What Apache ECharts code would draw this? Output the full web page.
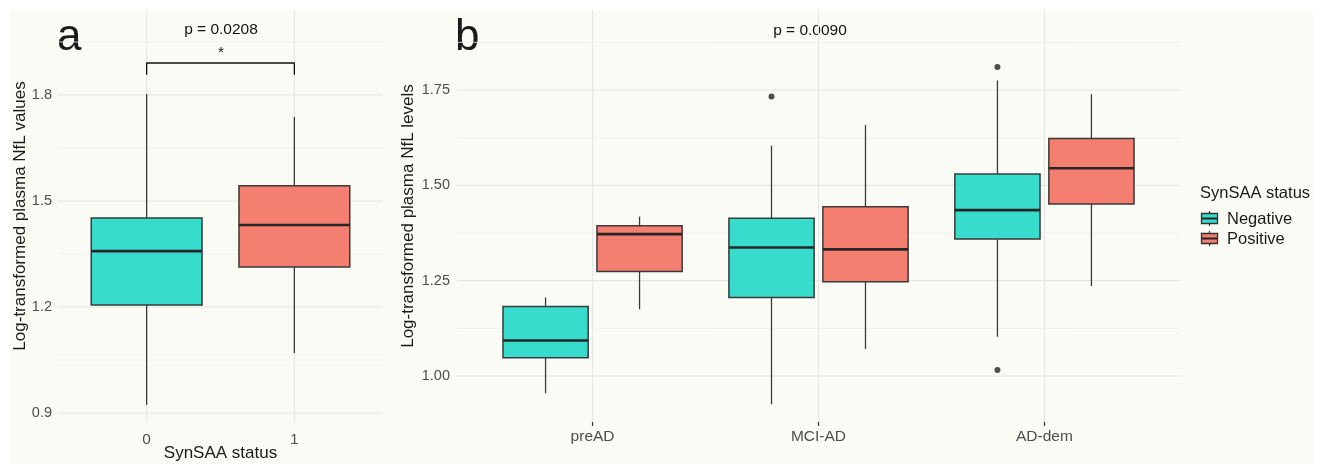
<!DOCTYPE html>
<html><head><meta charset="utf-8">
<script src="https://cdn.jsdelivr.net/npm/echarts@6/dist/echarts.min.js"></script>
<style>html,body{margin:0;padding:0;background:#fff}#c{width:1323px;height:464px}</style>
</head><body><div id="c"></div>
<script>
// ---------- data ----------
const catsA = ['0', '1'];
// [lower whisker, Q1, median, Q3, upper whisker]
const statsA = [
  [0.923, 1.206, 1.358, 1.452, 1.803],
  [1.070, 1.313, 1.432, 1.543, 1.738]
];
const pTextA = 'p = 0.0208';
const starA = '*';
const bracketA = [[1, 1.857], [1, 1.8906], [2, 1.8906], [2, 1.857]];

const catsB = ['preAD', 'MCI-AD', 'AD-dem'];
const negB = [
  [0.955, 1.048, 1.093, 1.182, 1.206],
  [0.926, 1.206, 1.337, 1.414, 1.604],
  [1.103, 1.359, 1.435, 1.530, 1.775]
];
const posB = [
  [1.175, 1.274, 1.372, 1.394, 1.418],
  [1.071, 1.247, 1.332, 1.444, 1.658],
  [1.236, 1.451, 1.545, 1.623, 1.739]
];
// outliers: [category number (1-based), value]
const outNegB = [[2, 1.733], [3, 1.810], [3, 1.016]];
const outPosB = [];
const pTextB = 'p = 0.0090';

const ticksA = [0.9, 1.2, 1.5, 1.8];
const minorA = [1.05, 1.35, 1.65, 1.95];
const ticksB = [1.00, 1.25, 1.50, 1.75];
const minorB = [1.125, 1.375, 1.625, 1.875];
const legendTitle = 'SynSAA status';
const legendNames = ['Negative', 'Positive'];

// ---------- style ----------
const FONT = '"Liberation Sans", Arial, Helvetica, sans-serif';
const TEAL = '#38dccd', SALMON = '#f47e6f';
const BG = '#fbfbf6';
const GRIDC = '#e6e6e4', MINORC = '#ededeb';
const DODGE = 0.208, BW_B = 0.377, BW_A = 0.75;

function hLines(xi, values, color, width) {
  return {
    type: 'custom', xAxisIndex: xi, yAxisIndex: xi, z: 1, silent: true, clip: false,
    data: values.map(v => [1, v]),
    renderItem: (params, api) => {
      const cs = params.coordSys;
      const y = api.coord([1, api.value(1)])[1];
      return { type: 'line', shape: { x1: cs.x, y1: y, x2: cs.x + cs.width, y2: y },
        style: { stroke: color, lineWidth: width } };
    }
  };
}
function vLines(xi, n, color, width) {
  const d = [];
  for (let k = 1; k <= n; k++) d.push([k, 1.2]);
  return {
    type: 'custom', xAxisIndex: xi, yAxisIndex: xi, z: 1, silent: true, clip: false,
    data: d,
    renderItem: (params, api) => {
      const cs = params.coordSys;
      const x = api.coord([api.value(0), 1.2])[0];
      return { type: 'line', shape: { x1: x, y1: cs.y, x2: x, y2: cs.y + cs.height },
        style: { stroke: color, lineWidth: width } };
    }
  };
}
function boxSeries(xi, stats, offset, width, colorFn, name) {
  return {
    type: 'custom', name: name, xAxisIndex: xi, yAxisIndex: xi, z: 3, clip: false,
    data: stats.map((s, i) => [i + 1].concat(s)),
    renderItem: (params, api) => {
      const x = api.value(0) + offset;
      const lo = api.value(1), q1 = api.value(2), md = api.value(3), q3 = api.value(4), hi = api.value(5);
      const tl = api.coord([x - width / 2, q3]);
      const br = api.coord([x + width / 2, q1]);
      const c = api.coord([x, md]);
      const yLo = api.coord([x, lo])[1], yHi = api.coord([x, hi])[1];
      const stroke = '#3a3a3a';
      return { type: 'group', children: [
        { type: 'line', shape: { x1: c[0], y1: yHi, x2: c[0], y2: tl[1] }, style: { stroke, lineWidth: 1.3 } },
        { type: 'line', shape: { x1: c[0], y1: br[1], x2: c[0], y2: yLo }, style: { stroke, lineWidth: 1.3 } },
        { type: 'rect', shape: { x: tl[0], y: tl[1], width: br[0] - tl[0], height: br[1] - tl[1] },
          style: { fill: colorFn(params.dataIndex), stroke, lineWidth: 1.5 } },
        { type: 'line', shape: { x1: tl[0], y1: c[1], x2: br[0], y2: c[1] }, style: { stroke: '#262626', lineWidth: 2.6 } }
      ]};
    }
  };
}
function outlierSeries(xi, pts, offset) {
  return {
    type: 'scatter', xAxisIndex: xi, yAxisIndex: xi, z: 4, symbol: 'circle', symbolSize: 6,
    itemStyle: { color: '#222222' },
    data: pts.map(p => [p[0] + offset, p[1]])
  };
}

const tickLabel = { color: '#4d4d4d', fontFamily: FONT, fontSize: 14.5 };
const xTickLabel = { color: '#4d4d4d', fontFamily: FONT, fontSize: 15.5 };
const titleStyle = { color: '#1a1a1a', fontFamily: FONT, fontSize: 17 };

const option = {
  backgroundColor: '#ffffff',
  animation: false,
  grid: [
    { left: 58, top: 10, width: 325, height: 412, outerBoundsMode: 'none' },
    { left: 457, top: 10, width: 723, height: 412, outerBoundsMode: 'none' }
  ],
  xAxis: [
    { type: 'value', gridIndex: 0, min: 0.4, max: 2.6,
      axisLine: { show: false }, splitLine: { show: false },
      axisTick: { show: false },
      axisLabel: Object.assign({ customValues: catsA.map((c, i) => i + 1), margin: 10,
        formatter: v => catsA[Math.round(v) - 1] }, xTickLabel),
      name: 'SynSAA status', nameLocation: 'middle', nameGap: 23, nameMoveOverlap: false,
      nameTextStyle: titleStyle },
    { type: 'value', gridIndex: 1, min: 0.4, max: 3.6,
      axisLine: { show: false }, splitLine: { show: false },
      axisTick: { show: true, customValues: catsB.map((c, i) => i + 1), length: 4,
        lineStyle: { color: '#333333', width: 1.2 } },
      axisLabel: Object.assign({ customValues: catsB.map((c, i) => i + 1), margin: 7,
        formatter: v => catsB[Math.round(v) - 1] }, xTickLabel) }
  ],
  yAxis: [
    { type: 'value', gridIndex: 0, min: 0.8745, max: 2.0406,
      axisLine: { show: false }, splitLine: { show: false }, axisTick: { show: false },
      axisLabel: Object.assign({ customValues: ticksA, margin: 6, formatter: v => v.toFixed(1) }, tickLabel),
      name: 'Log-transformed plasma NfL values', nameLocation: 'middle', nameGap: 29, nameRotate: 90,
      nameMoveOverlap: false, nameTextStyle: titleStyle },
    { type: 'value', gridIndex: 1, min: 0.8794, max: 1.9598,
      axisLine: { show: false }, splitLine: { show: false }, axisTick: { show: false },
      axisLabel: Object.assign({ customValues: ticksB, margin: 7, formatter: v => v.toFixed(2) }, tickLabel),
      name: 'Log-transformed plasma NfL levels', nameLocation: 'middle', nameGap: 40, nameRotate: 90,
      nameMoveOverlap: false, nameTextStyle: titleStyle }
  ],
  graphic: [
    { type: 'rect', z: -10, shape: { x: 10, y: 10, width: 1303, height: 454 }, style: { fill: BG } },
    { type: 'text', x: 57, y: 38, style: { text: 'a', font: '44px ' + FONT, fill: '#1a1a1a', align: 'left', verticalAlign: 'middle' } },
    { type: 'text', x: 455, y: 38, style: { text: 'b', font: '44px ' + FONT, fill: '#1a1a1a', align: 'left', verticalAlign: 'middle' } },
    { type: 'text', x: 221, y: 30, style: { text: pTextA, font: '15.5px ' + FONT, fill: '#111', align: 'center', verticalAlign: 'middle' } },
    { type: 'text', x: 221, y: 53, style: { text: starA, font: '15.5px ' + FONT, fill: '#111', align: 'center', verticalAlign: 'middle' } },
    { type: 'text', x: 810, y: 31, style: { text: pTextB, font: '15.5px ' + FONT, fill: '#111', align: 'center', verticalAlign: 'middle' } },
    // legend
    { type: 'text', x: 1200, y: 193, style: { text: legendTitle, font: '16.5px ' + FONT, fill: '#1a1a1a', align: 'left', verticalAlign: 'middle' } },
    { type: 'group', x: 1201, y: 210, children: [
      { type: 'line', shape: { x1: 8.5, y1: 1, x2: 8.5, y2: 16 }, style: { stroke: '#333', lineWidth: 1.2 } },
      { type: 'rect', shape: { x: 0.5, y: 3.5, width: 16, height: 10 }, style: { fill: TEAL, stroke: '#333', lineWidth: 1.3 } },
      { type: 'line', shape: { x1: 0.5, y1: 8.5, x2: 16.5, y2: 8.5 }, style: { stroke: '#262626', lineWidth: 2 } }
    ]},
    { type: 'group', x: 1201, y: 230, children: [
      { type: 'line', shape: { x1: 8.5, y1: 1, x2: 8.5, y2: 16 }, style: { stroke: '#333', lineWidth: 1.2 } },
      { type: 'rect', shape: { x: 0.5, y: 3.5, width: 16, height: 10 }, style: { fill: SALMON, stroke: '#333', lineWidth: 1.3 } },
      { type: 'line', shape: { x1: 0.5, y1: 8.5, x2: 16.5, y2: 8.5 }, style: { stroke: '#262626', lineWidth: 2 } }
    ]},
    { type: 'text', x: 1227, y: 219, style: { text: legendNames[0], font: '16.5px ' + FONT, fill: '#1a1a1a', align: 'left', verticalAlign: 'middle' } },
    { type: 'text', x: 1227, y: 239, style: { text: legendNames[1], font: '16.5px ' + FONT, fill: '#1a1a1a', align: 'left', verticalAlign: 'middle' } }
  ],
  series: [
    hLines(0, minorA, MINORC, 0.8),
    hLines(0, ticksA, GRIDC, 1.2),
    vLines(0, catsA.length, GRIDC, 1.2),
    hLines(1, minorB, MINORC, 0.8),
    hLines(1, ticksB, GRIDC, 1.2),
    vLines(1, catsB.length, GRIDC, 1.2),
    boxSeries(0, statsA, 0, BW_A, i => (i === 0 ? TEAL : SALMON), 'A'),
    { type: 'line', xAxisIndex: 0, yAxisIndex: 0, z: 4, symbol: 'none', silent: true,
      lineStyle: { color: '#111111', width: 1.3 }, data: bracketA },
    boxSeries(1, negB, -DODGE, BW_B, () => TEAL, legendNames[0]),
    boxSeries(1, posB, DODGE, BW_B, () => SALMON, legendNames[1]),
    outlierSeries(1, outNegB, -DODGE),
    outlierSeries(1, outPosB, DODGE)
  ]
};
const chart = echarts.init(document.getElementById('c'), null, { renderer: 'canvas' });
chart.setOption(option);
</script></body></html>
